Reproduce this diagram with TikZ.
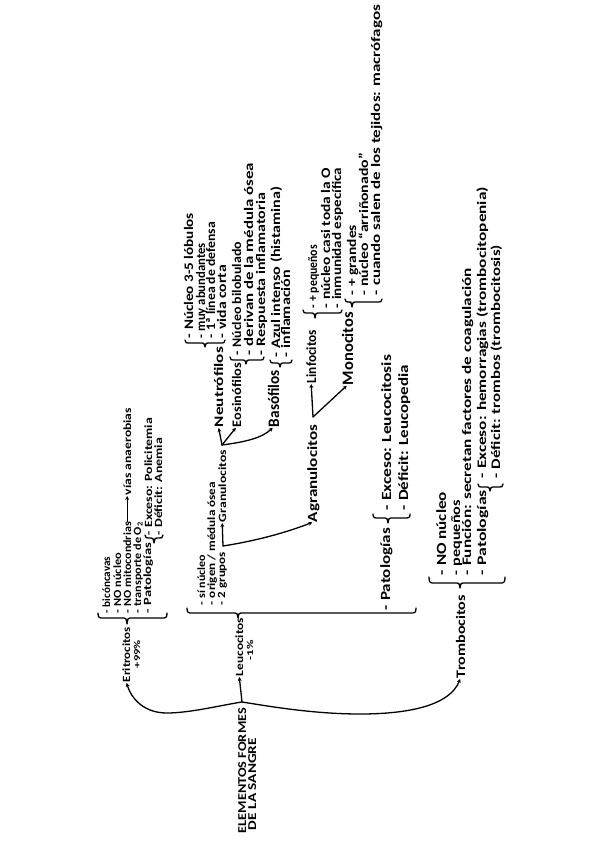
\documentclass[tikz,border=0pt]{standalone}
\usepackage{fontspec}
\usepackage{graphicx}
\setmainfont{Carlito}
\usetikzlibrary{arrows.meta}
\newsavebox{\fitbox}
\newcommand\fitt[3]{{\fontsize{#2}{#2}\selectfont\bfseries\sbox{\fitbox}{#3}\pgfmathsetmacro\fitr{(#1)/\the\wd\fitbox}\scalebox{\fitr}[1]{\usebox{\fitbox}}}}
\tikzset{
  txt/.style={rotate=90,anchor=base west,inner sep=0pt,outer sep=0pt,text=black},
  arr/.style={draw=black,line width=1.3pt,-{Stealth[length=4pt,width=4pt]},shorten >=1pt,line cap=round},
  brc/.style={draw=black,line width=1.3pt,line cap=round,line join=round}
}
% name, x-centre, y-bottom, y-top, size, text
\newcommand\tl[6]{\node[txt] (#1) at ({#2+3},#3) {\fitt{#3-#4}{#5}{#6}};}
% x1, point x, x2, y, curl, tip
\newcommand\hbr[6]{\draw[brc] (#1,{#4-#5}) .. controls (#1,#4) and ({#1+1},#4) .. ({#1+6},#4) -- ({#2-3},#4) .. controls ({#2-1},#4) .. (#2,{#4+#6}) .. controls ({#2+1},#4) .. ({#2+3},#4) -- ({#3-6},#4) .. controls ({#3-1},#4) and (#3,#4) .. (#3,{#4-#5});}
\begin{document}
\begin{tikzpicture}[x=1pt,y=-1pt]
\useasboundingbox[fill=white] (0,0) rectangle (601,848);
% title
\tl{titA}{243}{833}{708}{12}{ELEMENTOS FORMES}
\tl{titB}{253}{830}{738}{12}{DE LA SANGRE}
\coordinate (root) at (242,702);
% level 1
\tl{eri}{127}{682}{627}{11}{Eritrocitos}
\tl{eripc}{137}{668}{640}{9}{+99\%}
\tl{leu}{240}{676}{618}{11}{Leucocitos}
\tl{leupc}{250}{660}{640}{9}{-1\%}
\tl{tro}{462}{678}{595}{13}{Trombocitos}
\draw[arr] (root) .. controls (222,705) and (190,713) .. (167,713) .. controls (145,713) and (132,700) .. (eri.west);
\draw[arr] (root) -- (leu.west);
\draw[arr] (root) .. controls (262,705) and (310,714) .. (360,714) .. controls (410,714) and (450,705) .. (tro.west);
% eritrocitos
\hbr{98}{127}{167}{618}{5}{6}
\tl{e1}{107}{613}{557}{11}{- bicóncavas}
\tl{e2}{118}{613}{553}{11}{- NO núcleo}
\tl{e3}{128}{613}{522}{11}{- NO mitocondrias}
\tl{e3b}{128}{495}{408}{11}{vías anaerobias}
\draw[arr] (e3.east) -- (e3b.west);
\tl{e4}{138}{613}{522}{11}{- transporte de O\textsubscript{2}}
\tl{e5}{148}{613}{543}{11}{- Patologías}
\hbr{145}{154}{163}{538}{3}{5}
\tl{e6}{149}{535}{418}{11}{- Exceso: Policitemia}
\tl{e7}{159}{535}{438}{11}{- Déficit: Anemia}
% leucocitos
\hbr{187}{238}{416}{613}{5}{5}
\tl{l1}{202}{605}{555}{11}{- sí núcleo}
\tl{l2}{212}{605}{482}{11}{- origen / médula ósea}
\tl{l3}{222}{605}{552}{11}{- 2 grupos}
\coordinate (lroot) at (223,546);
\tl{gra}{223}{522}{450}{11}{Granulocitos}
\tl{agr}{314}{522}{425}{14}{Agranulocitos}
\draw[arr] (lroot) -- (gra.west);
\draw[arr] (lroot) .. controls (255,541) and (285,533) .. (agr.west);
\tl{pat}{387}{610}{528}{14}{- Patologías}
\hbr{373}{388}{410}{518}{4}{5}
\tl{pa}{388}{510}{355}{14}{- Exceso: Leucocitosis}
\tl{pb}{405}{510}{365}{14}{- Déficit: Leucopedia}
% granulocitos
\coordinate (groot) at (222,445);
\tl{neu}{220}{427}{347}{13}{Neutrófilos}
\tl{eos}{238}{427}{363}{13}{Eosinófilos}
\tl{bas}{276}{427}{370}{16}{Basófilos}
\draw[arr] (groot) -- (neu.west);
\draw[arr] (groot) -- (eos.west);
\draw[arr] (groot) .. controls (245,442) and (262,438) .. (bas.west);
\hbr{185}{205}{225}{343}{3}{4}
\tl{n1}{190}{338}{213}{13}{- Núcleo 3-5 lóbulos}
\tl{n2}{202}{338}{243}{13}{- muy abundantes}
\tl{n3}{212}{338}{222}{13}{- 1ª línea de defensa}
\tl{n4}{223}{338}{265}{13}{- vida corta}
\hbr{230}{246}{264}{360}{3}{4}
\tl{o1}{238}{355}{242}{13}{- Núcleo bilobulado}
\tl{o2}{250}{355}{163}{13}{- derivan de la médula ósea}
\tl{o3}{262}{355}{193}{13}{- Respuesta inflamatoria}
\hbr{270}{280}{292}{363}{3}{4}
\tl{b1}{277}{357}{187}{13}{- Azul intenso (histamina)}
\tl{b2}{287}{357}{270}{13}{- inflamación}
% agranulocitos
\coordinate (aroot) at (313,417);
\tl{lin}{313}{383}{330}{14}{Linfocitos}
\tl{mon}{350}{385}{312}{16}{Monocitos}
\draw[arr] (aroot) -- (lin.west);
\draw[arr] (aroot) -- (mon.west);
\hbr{303}{315}{342}{313}{3}{5}
\tl{i1}{314}{308}{245}{13}{- + pequeños}
\tl{i2}{327}{308}{168}{13}{- núcleo casi toda la O}
\tl{i3}{338}{308}{168}{13}{- inmunidad específica}
\hbr{345}{352}{382}{302}{3}{5}
\tl{m1}{353}{295}{225}{13}{- + grandes}
\tl{m2}{365}{295}{153}{13}{- núcleo “arriñonado”}
\tl{m3}{377}{295}{5}{13}{- cuando salen de los tejidos: macrófagos}
% trombocitos
\hbr{429}{460}{505}{583}{6}{5}
\tl{t1}{443}{575}{492}{14}{- NO núcleo}
\tl{t2}{457}{575}{500}{13}{- pequeños}
\tl{t3}{468}{575}{268}{13}{- Función: secretan factores de coagulación}
\tl{t4}{483}{575}{490}{13}{- Patologías}
\hbr{478}{490}{503}{487}{3}{4}
\tl{t5}{483}{478}{187}{13}{- Exceso: hemorragias (trombocitopenia)}
\tl{t6}{497}{478}{245}{13}{- Déficit: trombos (trombocitosis)}
\end{tikzpicture}
\end{document}
